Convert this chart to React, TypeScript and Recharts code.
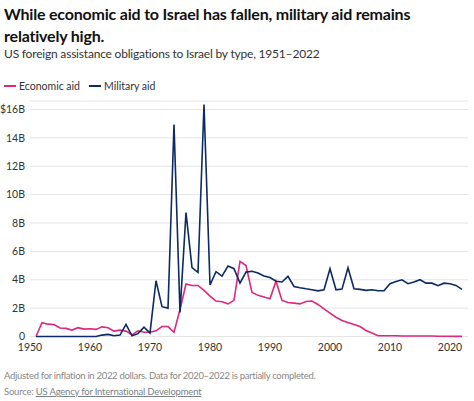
import { LineChart, Line, XAxis, YAxis, CartesianGrid } from 'recharts';

const years = [
  1951, 1952, 1953, 1954, 1955, 1956, 1957, 1958, 1959, 1960,
  1961, 1962, 1963, 1964, 1965, 1966, 1967, 1968, 1969, 1970,
  1971, 1972, 1973, 1974, 1975, 1976, 1977, 1978, 1979, 1980,
  1981, 1982, 1983, 1984, 1985, 1986, 1987, 1988, 1989, 1990,
  1991, 1992, 1993, 1994, 1995, 1996, 1997, 1998, 1999, 2000,
  2001, 2002, 2003, 2004, 2005, 2006, 2007, 2008, 2009, 2010,
  2011, 2012, 2013, 2014, 2015, 2016, 2017, 2018, 2019, 2020,
  2021, 2022,
];

// billions of 2022 dollars
const economicAid = [
  0.0, 0.97, 0.87, 0.85, 0.6, 0.57, 0.45, 0.62, 0.52, 0.55,
  0.5, 0.68, 0.62, 0.38, 0.45, 0.38, 0.12, 0.4, 0.3, 0.3,
  0.4, 0.7, 0.7, 0.3, 1.9, 3.7, 3.6, 3.6, 3.25, 2.85,
  2.5, 2.45, 2.3, 2.55, 5.3, 5.0, 3.1, 2.9, 2.78, 2.66,
  3.9, 2.54, 2.4, 2.35, 2.3, 2.47, 2.5, 2.26, 1.95, 1.65,
  1.36, 1.13, 0.99, 0.85, 0.7, 0.42, 0.24, 0.05, 0.05, 0.05,
  0.05, 0.04, 0.04, 0.04, 0.03, 0.03, 0.03, 0.02, 0.02, 0.02,
  0.01, 0.01,
];

const militaryAid = [
  0, 0, 0, 0, 0, 0, 0, 0, 0, 0,
  0, 0.1, 0.15, 0.05, 0.1, 0.85, 0.05, 0.2, 0.66, 0.25,
  3.93, 2.1, 2.0, 14.95, 1.7, 8.73, 4.85, 4.52, 16.35, 3.63,
  4.57, 4.26, 4.97, 4.78, 3.76, 4.54, 4.6, 4.47, 4.26, 4.16,
  3.9, 3.84, 4.24, 3.53, 3.44, 3.36, 3.29, 3.22, 3.29, 4.78,
  3.29, 3.34, 4.85, 3.36, 3.32, 3.25, 3.29, 3.22, 3.22, 3.72,
  3.88, 4.0, 3.72, 3.84, 4.0, 3.76, 3.76, 3.58, 3.76, 3.72,
  3.6, 3.32,
];

const xTicks = [1950, 1960, 1970, 1980, 1990, 2000, 2010, 2020];
const yTicks = [0, 2, 4, 6, 8, 10, 12, 14, 16];

const PINK = '#e0267d';
const NAVY = '#0c2a66';
const FONT = 'Lato, "Open Sans", sans-serif';

const data = years.map((year, i) => ({
  year,
  economic: economicAid[i],
  military: militaryAid[i],
}));

function formatY(v: number) {
  if (v === 0) return '0';
  if (v === 16) return '$16B';
  return `${v}B`;
}

export default function App() {
  return (
    <div style={{ position: 'absolute', left: 0, top: 0, width: 474, height: 401, background: '#fff', fontFamily: FONT }}>
      <div style={{ position: 'absolute', left: 4, top: 3, width: 466, fontSize: 16, fontWeight: 700, lineHeight: '22px', letterSpacing: -0.2, color: '#111' }}>
        While economic aid to Israel has fallen, military aid remains relatively high.
      </div>
      <div style={{ position: 'absolute', left: 4, top: 46, fontSize: 12, letterSpacing: -0.2, color: '#333' }}>
        US foreign assistance obligations to Israel by type, 1951–2022
      </div>
      <div style={{ position: 'absolute', left: 4, top: 80, fontSize: 10.5, color: '#333', display: 'flex', alignItems: 'center' }}>
        <span style={{ display: 'inline-block', width: 12, height: 2, background: PINK, marginRight: 3 }} />
        <span style={{ marginRight: 9 }}>Economic aid</span>
        <span style={{ display: 'inline-block', width: 12, height: 2, background: NAVY, marginRight: 3 }} />
        <span>Military aid</span>
      </div>

      <div style={{ position: 'absolute', left: 0, top: 0 }}>
        <LineChart width={474} height={401} data={data} margin={{ top: 101, right: 6, bottom: 0, left: 0 }}>
          <CartesianGrid vertical={false} stroke="#e4e4e4" />
          <XAxis
            dataKey="year"
            type="number"
            domain={[1950, 2023]}
            ticks={xTicks}
            height={64.5}
            axisLine={false}
            tickLine={false}
            tickSize={0}
            tickMargin={7}
            tick={{ fontSize: 10.5, fill: '#333', fontFamily: FONT }}
          />
          <YAxis
            domain={[0, 16.6]}
            ticks={yTicks}
            width={30}
            axisLine={false}
            tickLine={false}
            tickSize={0}
            tickMargin={5}
            tickFormatter={formatY}
            tick={{ fontSize: 10.5, fill: '#333', fontFamily: FONT }}
          />
          <Line
            type="linear"
            dataKey="economic"
            stroke={PINK}
            strokeWidth={1.6}
            dot={false}
            isAnimationActive={false}
          />
          <Line
            type="linear"
            dataKey="military"
            stroke={NAVY}
            strokeWidth={1.6}
            dot={false}
            isAnimationActive={false}
          />
        </LineChart>
      </div>

      <div style={{ position: 'absolute', left: 4, top: 370, fontSize: 9.5, letterSpacing: -0.3, color: '#888' }}>
        Adjusted for inflation in 2022 dollars. Data for 2020–2022 is partially completed.
      </div>
      <div style={{ position: 'absolute', left: 4, top: 386, fontSize: 9.5, letterSpacing: -0.2, color: '#888' }}>
        Source: <span style={{ textDecoration: 'underline', color: '#7a7f88' }}>US Agency for International Development</span>
      </div>
    </div>
  );
}
